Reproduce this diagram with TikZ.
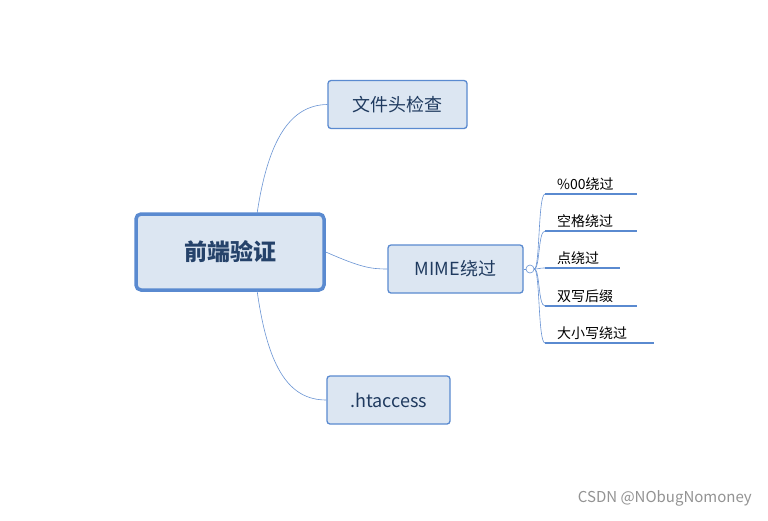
\documentclass[tikz,border=0pt]{standalone}
\usepackage{fontspec}
\setmainfont{Noto Sans CJK SC}
\begin{document}
\begin{tikzpicture}[x=1pt,y=-1pt,
  topic/.style={draw=boxblue,fill=boxfill,rounded corners=3pt,line width=1.3pt,inner sep=0pt,font=\fontsize{18}{20}\selectfont,text=textblue},
  conn/.style={draw=lineblue,line width=0.6pt},
  sub/.style={anchor=south west,inner sep=0pt,font=\fontsize{14}{16}\selectfont},
  uline/.style={draw=boxblue,line width=2pt}]
\definecolor{boxblue}{HTML}{5A8AD0}
\definecolor{boxfill}{HTML}{DCE6F2}
\definecolor{textblue}{HTML}{1F3A5F}
\definecolor{lineblue}{HTML}{6A94D4}
\useasboundingbox[fill=white] (0,0) rectangle (768,520);
\node[topic,line width=3.5pt,rounded corners=5pt,minimum width=188pt,minimum height=76pt,font=\fontsize{23}{26}\selectfont\bfseries,text=textblue!90!boxblue] (c) at (230,252) {前端验证};
\node[topic,minimum width=139pt,minimum height=48pt] (a) at (397.5,104.5) {文件头检查};
\node[topic,minimum width=135pt,minimum height=48pt] (m) at (455.5,269) {MIME绕过};
\node[topic,minimum width=123pt,minimum height=48pt] (h) at (388.5,400) {.htaccess};
\coordinate (ct) at (257,214);
\coordinate (cb) at (257,290);
\draw[conn] (ct) .. controls (268,140) and (290,105) .. (a.west);
\draw[conn] (c.east) .. controls (360,267) and (370,269) .. (m.west);
\draw[conn] (cb) .. controls (268,370) and (290,400) .. (h.west);
\node[draw=lineblue,circle,inner sep=0pt,minimum size=8pt,line width=0.6pt] (o) at (530,269) {};
\draw[conn] (m.east) -- (o.west);
\foreach \y/\r/\t [count=\i] in {194/637/\%00绕过,231/637/空格绕过,268/620/点绕过,306/637/双写后缀,343/654/大小写绕过}{
  \coordinate (l\i) at (545,\y);
  \coordinate (r\i) at (\r,\y);
  \draw[uline] (l\i) -- (r\i);
  \node[sub] (t\i) at (557,\y-3) {\t};
  \draw[conn] (o.east) .. controls (540,269) and (538,\y) .. (l\i);
}
\node[anchor=east,inner sep=0pt,text=gray!85,font=\fontsize{15}{17}\selectfont] (w) at (752,498) {CSDN @NObugNomoney};
\end{tikzpicture}
\end{document}
